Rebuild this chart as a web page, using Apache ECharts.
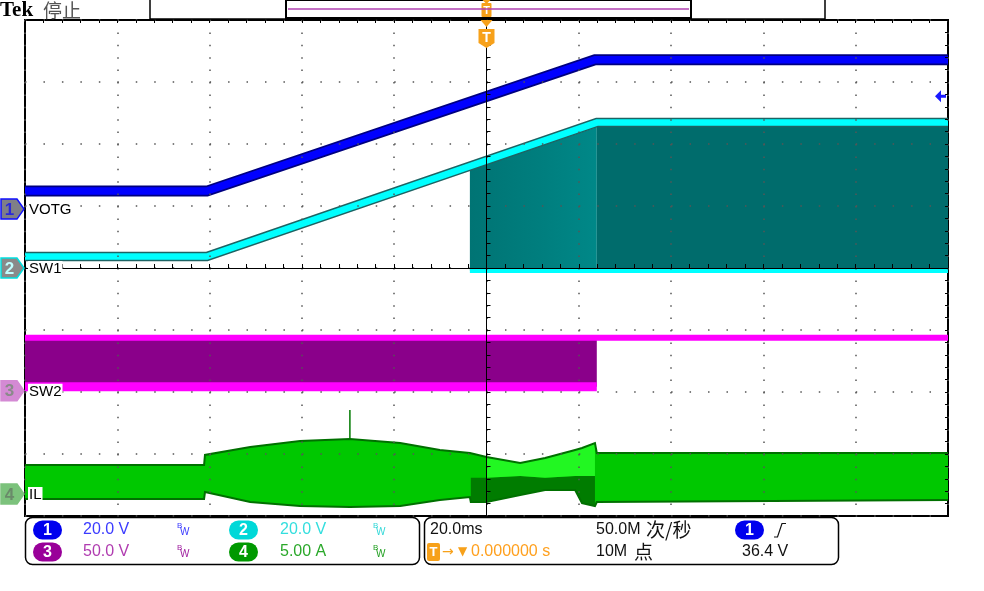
<!DOCTYPE html>
<html><head><meta charset="utf-8">
<script src="https://cdn.jsdelivr.net/npm/echarts@6/dist/echarts.min.js"></script>
<style>html,body{margin:0;padding:0;background:#fff}#c{width:984px;height:591px}</style>
</head><body><div id="c"></div>
<script>
// ---------------- DATA ----------------
const chLabels = ['VOTG', 'SW1', 'SW2', 'IL'];
const chScale  = [20, 20, 50, 5];              // units per division
const chPos    = [0.95, 0.0, -1.98, -3.645];   // reference level (divisions)
const timePerDiv = 20;                          // ms/div

// CH1 VOTG (V)
const votgT = [-100, -60.6, 23.5, 100];
const votgV = [5.8, 5.8, 48.2, 48.2];

// CH2 SW1 (V)
const sw1T = [-100, -60.6, 23.9, 100];
const sw1V = [3.7, 3.7, 46.9, 46.9];
const sw1SwAT = [-3.6, 23.9];
const sw1SwAHigh = [31.6, 45.5];
const sw1SwALow = [-0.8, -0.8];
const sw1SwBT = [23.9, 100];
const sw1SwBHigh = [45.5, 45.5];
const sw1SwBLow = [-0.8, -0.8];
const sw1LowT = [-3.6, 100];
const sw1LowV = [-0.8, -0.8];

// CH3 SW2 (V)
const sw2HighT = [-100, 100];
const sw2HighV = [42.7, 42.7];
const sw2LowT = [-100, 23.9];
const sw2LowV = [3.2, 3.2];
const sw2SwT = [-100, 23.9];
const sw2SwHigh = [42.7, 42.7];
const sw2SwLow = [3.2, 3.2];

// CH4 IL (A) envelope
const ilT   = [-100, -61.2, -61.0, -51.2, -40.4, -29.6, -18.7, -10.1, -3.6, -3.4, 0, 7.3, 12.7, 19.2, 20.7, 23.5, 23.9, 100];
const ilTop = [2.34, 2.34, 3.15, 3.79, 4.27, 4.44, 4.11, 3.55, 3.31, 3.31, 2.98, 2.50, 2.90, 3.55, 3.71, 4.11, 3.31, 3.31];
const ilBot = [-0.40, -0.40, 0.16, -0.65, -0.97, -1.05, -0.97, -0.48, -0.24, -0.65, -0.65, -0.08, 0.32, 0.32, -0.73, -0.97, -0.65, -0.48];
// dark lower part / bright upper part after the trigger
const ilDarkT   = [-3.4, 0, 7.3, 12.7, 19.2, 20.7, 23.5];
const ilDarkMid = [1.3, 1.3, 1.45, 1.3, 1.45, 1.45, 1.45];
const ilDarkBot = [-0.65, -0.65, -0.08, 0.32, 0.32, -0.73, -0.97];
const ilBrT     = [0, 7.3, 12.7, 19.2, 20.7, 23.5];
const ilBrTop   = [2.98, 2.50, 2.90, 3.55, 3.71, 4.11];
const ilBrMid   = [1.3, 1.45, 1.3, 1.45, 1.45, 1.45];
const ilSpikeT = [-29.6, -29.6];
const ilSpikeV = [4.4, 6.77];

const trigLevel = 36.4; // V on CH1

// ---------------- HELPERS ----------------
const dv = (ch, v) => v / chScale[ch] + chPos[ch];
const pts = (ch, T, V) => T.map((t, i) => [t, dv(ch, V[i])]);
const bandData = (ch, T, lo, hi) => T.map((t, i) => [t, dv(ch, lo[i]), dv(ch, hi[i])]);

const S = [];
function addLine(data, color, width, z) {
  S.push({type: 'line', data, symbol: 'none', silent: true, z: z || 2,
    lineStyle: {color, width, cap: 'butt', join: 'miter'}});
}
function addBand(data, fill, z) {
  S.push({
    type: 'custom', data, silent: true, z: z || 2, clip: true,
    encode: {x: 0, y: [1, 2]},
    renderItem: function (params, api) {
      if (params.dataIndex !== 0) return null;
      const up = data.map(p => api.coord([p[0], p[2]]));
      const lo = data.map(p => api.coord([p[0], p[1]])).reverse();
      return {type: 'polygon', shape: {points: up.concat(lo)}, style: {fill: fill}};
    }
  });
}

// SW2
addBand(bandData(2, sw2SwT, sw2SwLow, sw2SwHigh), '#8a008a');
addLine(pts(2, sw2HighT, sw2HighV), '#ff00ff', 6);
addLine(pts(2, sw2LowT, sw2LowV), '#ff00ff', 9);
// SW1
addBand(bandData(1, sw1SwAT, sw1SwALow, sw1SwAHigh),
  {type: 'linear', x: 0, y: 0, x2: 1, y2: 0, colorStops: [{offset: 0, color: '#007474'}, {offset: 0.55, color: '#007e7e'}, {offset: 1, color: '#008888'}]});
addBand(bandData(1, sw1SwBT, sw1SwBLow, sw1SwBHigh), '#006c6c');
addLine(pts(1, sw1LowT, sw1LowV), '#00ffff', 5);
addLine(pts(1, sw1T, sw1V), '#1d6464', 9.5);
addLine(pts(1, sw1T, sw1V), '#00ffff', 6.5);
// VOTG
addLine(pts(0, votgT, votgV), '#000080', 11);
addLine(pts(0, votgT, votgV), '#0000ff', 7.5);
// IL
addBand(bandData(3, ilT, ilBot, ilTop), '#00c800', 3);
addBand(bandData(3, ilDarkT, ilDarkBot, ilDarkMid), 'rgba(0,115,0,0.9)', 3);
addBand(bandData(3, ilBrT, ilBrMid, ilBrTop), 'rgba(40,255,40,0.85)', 3);
addLine(pts(3, ilT, ilTop), '#007000', 2, 4);
addLine(pts(3, ilT, ilBot), '#007000', 2, 4);
addLine(pts(3, ilSpikeT, ilSpikeV), '#007a00', 1.5, 4);

const xA = (pos, center) => ({
  type: 'value', min: -5 * timePerDiv, max: 5 * timePerDiv, interval: timePerDiv, position: pos, z: 10,
  axisLine: {show: center, onZero: center, lineStyle: {color: '#000', width: 1}},
  axisTick: {show: true, inside: true, length: center ? 4 : 3, lineStyle: {color: '#000', width: 1}},
  minorTick: {show: true, splitNumber: 5, length: center ? 4 : 3, lineStyle: {color: '#000', width: 1}},
  axisLabel: {show: false},
  splitLine: {show: center, lineStyle: {color: '#555', width: 1.5, type: [1.5, 10.9]}}
});
const yA = (pos, center) => ({
  type: 'value', min: -4, max: 4, interval: 1, position: pos, z: 10,
  axisLine: {show: center, onZero: center, lineStyle: {color: '#000', width: 1}},
  axisTick: {show: true, inside: true, length: center ? 4 : 3, lineStyle: {color: '#000', width: 1}},
  minorTick: {show: true, splitNumber: 5, length: center ? 4 : 3, lineStyle: {color: '#000', width: 1}},
  axisLabel: {show: false},
  splitLine: {show: center, lineStyle: {color: '#555', width: 1.5, type: [1.5, 16.96]}}
});

const chart = echarts.init(document.getElementById('c'), null, {renderer: 'canvas'});
chart.setOption({
  animation: false,
  backgroundColor: '#fff',
  tooltip: {show: false},
  grid: {left: 25, top: 20, width: 923, height: 496, show: true, borderColor: '#000', borderWidth: 2,
         backgroundColor: 'transparent', containLabel: false, outerBoundsMode: 'none'},
  xAxis: [xA('bottom', true), xA('top', false)],
  yAxis: [yA('left', true), yA('right', false)],
  series: S
});

// ---------------- DECORATIONS ----------------
const P = (t, v) => chart.convertToPixel({gridIndex: 0}, [t, v]);
const G = [];
const F = '"Liberation Sans", "Noto Sans CJK SC", sans-serif';
function txt(x, y, s, font, fill, extra) {
  G.push({type: 'text', x, y, z: 100, silent: true,
    style: Object.assign({text: s, font, fill, align: 'left', verticalAlign: 'middle'}, extra || {})});
}
function poly(points, fill, stroke, lw) {
  G.push({type: 'polygon', z: 100, silent: true, shape: {points}, style: {fill, stroke: stroke || null, lineWidth: lw || 1}});
}
function rect(x, y, w, h, r, fill, stroke, lw) {
  G.push({type: 'rect', z: 100, silent: true, shape: {x, y, width: w, height: h, r}, style: {fill, stroke: stroke || null, lineWidth: lw || 1}});
}
function pill(x, yc, color, s) {
  rect(x, yc - 9.5, 29, 19, 9.5, color);
  txt(x + 14.5, yc + 0.5, s, 'bold 16px ' + F, '#fff', {align: 'center'});
}
function bw(x, yc, color) {
  txt(x, yc - 4, 'B', '8px ' + F, color);
  txt(x + 3, yc + 2, 'W', '10px ' + F, color);
}

const gx0 = P(-100, 0)[0], gx1 = P(100, 0)[0];
const tx = P(0, 0)[0];

// header
txt(0, 11, 'Tek', 'bold 21px "Liberation Serif", serif', '#000');
txt(43, 11, '停止', '19px "Noto Sans CJK SC", sans-serif', '#555');
// record bar
rect(150, -1, 675, 20, 0, '#fff', '#000', 1.5);
rect(286, 0, 405, 18, 0, null, '#000', 2);
G.push({type: 'line', z: 101, silent: true, shape: {x1: 288, y1: 9, x2: 689, y2: 9}, style: {stroke: '#b040b0', lineWidth: 1.5}});
// trigger position markers
const OR = '#f7a11a';
poly([[tx - 4, 0], [tx + 4, 0], [tx, 4]], OR);
rect(tx - 5, 3, 10, 14, 1, OR);
txt(tx, 10.5, 'T', 'bold 11px ' + F, '#fff', {align: 'center'});
poly([[tx - 6, 20], [tx + 6, 20], [tx, 27]], OR);
poly([[tx - 8, 29], [tx + 8, 29], [tx + 8, 43], [tx, 48], [tx - 8, 43]], OR);
txt(tx, 38, 'T', 'bold 14px ' + F, '#fff', {align: 'center'});

// trigger level arrow (right)
const ty = P(0, dv(0, trigLevel))[1];
poly([[gx1 - 13, ty], [gx1 - 7, ty - 6], [gx1 - 7, ty + 6]], '#1a1aff');
rect(gx1 - 8, ty - 1.5, 6, 3, 0, '#1a1aff');

// channel markers and names
const mk = [
  {fill: '#7f7f87', stroke: '#1010ff', tc: '#2a2ad8'},
  {fill: '#8a8a8a', stroke: '#00e0e0', tc: '#c0ffff'},
  {fill: '#d48ad4', stroke: '#d48ad4', tc: '#8a8a8a'},
  {fill: '#7cc27c', stroke: '#7cc27c', tc: '#6a8a6a'}
];
chLabels.forEach((name, i) => {
  const y = P(-100, chPos[i])[1];
  poly([[1, y - 10], [17, y - 10], [24, y], [17, y + 10], [1, y + 10]], mk[i].fill, mk[i].stroke, 1.5);
  txt(9.5, y + 1, String(i + 1), 'bold 17px ' + F, mk[i].tc, {align: 'center'});
  txt(gx0 + 3, y + 1, name, '15px ' + F, '#000', {backgroundColor: '#fff', padding: [1, 1, 0, 1]});
});

// bottom info panels
rect(25.5, 517.5, 394, 47, 7, '#fff', '#000', 1.5);
rect(424.5, 517.5, 414, 47, 7, '#fff', '#000', 1.5);
const r1 = 530, r2 = 552;
pill(33, r1, '#0000ee', '1');  txt(83, r1, '20.0 V', '16px ' + F, '#3b3bff');  bw(177, r1, '#3b3bff');
pill(229, r1, '#00d8d8', '2'); txt(280, r1, '20.0 V', '16px ' + F, '#33dede');  bw(373, r1, '#33d8d8');
pill(33, r2, '#990099', '3');  txt(83, r2, '50.0 V', '16px ' + F, '#b03cb0');  bw(177, r2, '#a020a0');
pill(229, r2, '#009900', '4'); txt(280, r2, '5.00 A', '16px ' + F, '#2aa82a');  bw(373, r2, '#22a022');

txt(430, r1, '20.0ms', '16px ' + F, '#111');
txt(596, r1, '50.0M', '16px ' + F, '#111');
txt(646, r1, '次/秒', '19px "Noto Sans CJK SC", sans-serif', '#111');
pill(735, r1, '#0000ee', '1');
G.push({type: 'polyline', z: 100, silent: true, shape: {points: [[774, 537], [777.5, 537], [782, 523.5], [786, 523.5]]}, style: {stroke: '#111', lineWidth: 1.2, fill: null}});

rect(427, 543, 13, 18, 2, OR);
txt(433.5, r2 + 0.5, 'T', 'bold 13px ' + F, '#fff', {align: 'center'});
txt(442, r2, '→', '14px "DejaVu Sans", sans-serif', OR);
txt(458, r2, '▼', '12px "DejaVu Sans", sans-serif', OR);
txt(471, r2, '0.000000 s', '16px ' + F, '#ffa01e');
txt(596, r2, '10M', '16px ' + F, '#111');
txt(634, r2, '点', '19px "Noto Sans CJK SC", sans-serif', '#111');
txt(742, r2, '36.4 V', '16px ' + F, '#111');

chart.setOption({graphic: G});
</script>
</body></html>
